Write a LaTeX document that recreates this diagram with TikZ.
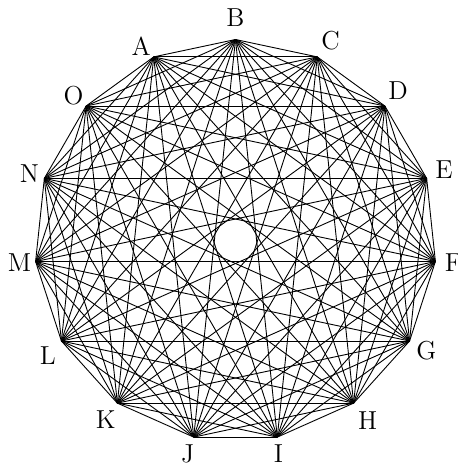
\documentclass[tikz,border=0pt]{standalone}
\begin{document}
\begin{tikzpicture}[x=0.5pt,y=-0.5pt,
  edge/.style={line width=0.45pt, black},
  lab/.style={inner sep=0pt, font=\fontsize{13}{15}\selectfont}]
\useasboundingbox (0,0) rectangle (458,463);
\foreach \n/\k/\dx/\dy in {B/0/0/-22, C/1/13.4/-16, D/2/13.3/-15, E/3/17.3/-9,
  F/4/17.7/1.6, G/5/16.7/10, H/6/14/17.7, I/7/1.3/17, J/8/-6/17, K/9/-11.6/16.7,
  L/10/-13.7/15, M/11/-16/1.6, N/12/-15/-5, O/13/-12.7/-10, A/14/-12.6/-11} {
  \coordinate (\n) at ({235.5+201*cos(90-24*\k)}, {240.5-201*sin(90-24*\k)});
  \node[lab] (l\n) at ([shift={(\dx,\dy)}]\n) {\n};
}
\foreach \a [count=\i] in {A,B,C,D,E,F,G,H,I,J,K,L,M,N,O} {
  \foreach \b [count=\j] in {A,B,C,D,E,F,G,H,I,J,K,L,M,N,O} {
    \ifnum\j>\i
      \draw[edge] (\a) -- (\b);
    \fi
  }
}
\end{tikzpicture}
\end{document}
